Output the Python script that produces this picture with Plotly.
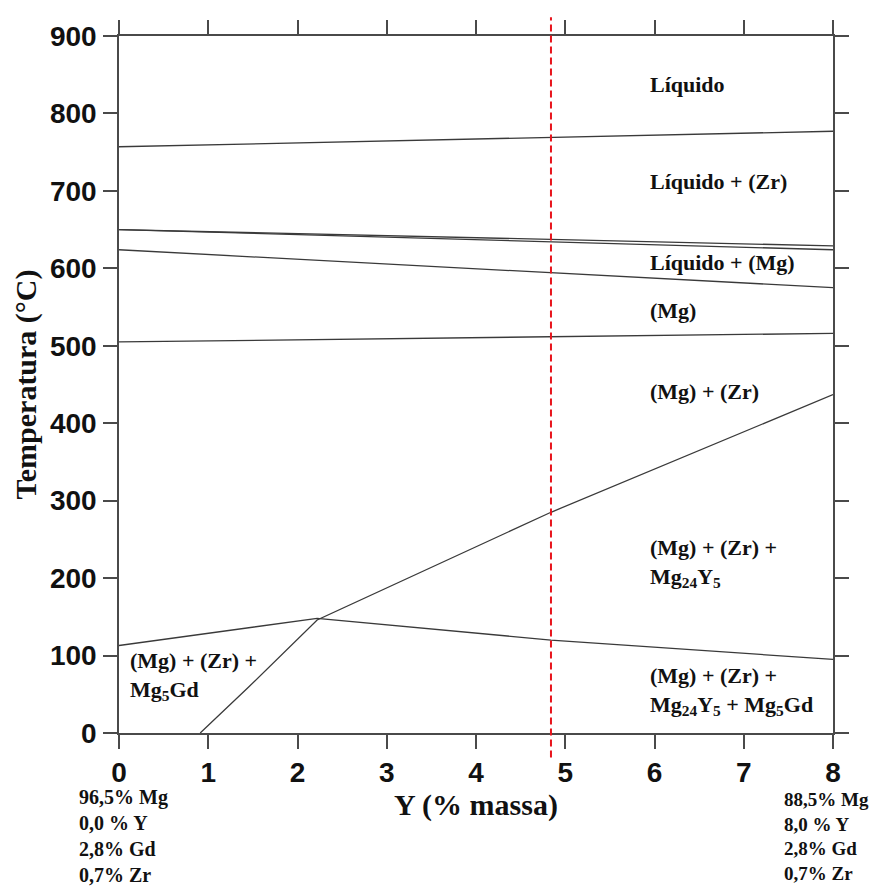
import plotly.graph_objects as go

# ---- data ----
liquidus_x = [0, 8]
liquidus_y = [757, 777]
zr_liq_x = [0, 8]
zr_liq_y = [650, 629]
mg_liq_x = [0, 8]
mg_liq_y = [650, 624]
solidus_x = [0, 8]
solidus_y = [624, 575]
zr_solvus_x = [0, 8]
zr_solvus_y = [505, 516]
mg24y5_x = [0.91, 1.45, 2.22, 4.84, 8]
mg24y5_y = [0, 59, 146, 285, 437]
mg5gd_x = [0, 2.22, 4.84, 8]
mg5gd_y = [113, 148, 120, 95]
alloy_x = 4.84

x_ticks = [0, 1, 2, 3, 4, 5, 6, 7, 8]
y_ticks = [0, 100, 200, 300, 400, 500, 600, 700, 800, 900]

region_labels = ["Líquido", "Líquido + (Zr)", "Líquido + (Mg)", "(Mg)", "(Mg) + (Zr)",
                 "(Mg) + (Zr) +<br>Mg<sub>24</sub>Y<sub>5</sub>",
                 "(Mg) + (Zr) +<br>Mg<sub>24</sub>Y<sub>5</sub> + Mg<sub>5</sub>Gd",
                 "(Mg) + (Zr) +<br>Mg<sub>5</sub>Gd"]
region_x = [5.93, 5.93, 5.93, 5.93, 5.93, 5.93, 5.93, 0.1]
region_y = [837, 712, 608, 545, 441, 219, 54, 74]

comp_left = "96,5% Mg<br>0,0 % Y<br>2,8% Gd<br>0,7% Zr"
comp_right = "88,5% Mg<br>8,0 % Y<br>2,8% Gd<br>0,7% Zr"

line_color = "#3a3a3a"
fig = go.Figure()
for xs, ys in [(liquidus_x, liquidus_y), (zr_liq_x, zr_liq_y), (mg_liq_x, mg_liq_y),
               (solidus_x, solidus_y), (zr_solvus_x, zr_solvus_y),
               (mg24y5_x, mg24y5_y), (mg5gd_x, mg5gd_y)]:
    fig.add_trace(go.Scatter(x=xs, y=ys, mode="lines",
                             line=dict(color=line_color, width=1.3),
                             showlegend=False, hoverinfo="skip"))

serif = "Liberation Serif, Times New Roman, serif"
sans = "Liberation Sans, Arial, sans-serif"

for t, x, y in zip(region_labels, region_x, region_y):
    fig.add_annotation(x=x, y=y, xref="x", yref="y", text=t, showarrow=False,
                       xanchor="left", yanchor="middle", align="left",
                       font=dict(family=serif, size=22, color="#111", weight="bold"))

fig.add_annotation(x=-0.059, y=-0.148, xref="paper", yref="paper", text=comp_left,
                   showarrow=False, xanchor="left", yanchor="middle", align="left",
                   font=dict(family=serif, size=20, color="#111", weight="bold"))
fig.add_annotation(x=0.929, y=-0.148, xref="paper", yref="paper", text=comp_right,
                   showarrow=False, xanchor="left", yanchor="middle", align="left",
                   font=dict(family=serif, size=19, color="#111", weight="bold"))

fig.add_shape(type="line", x0=alloy_x, x1=alloy_x, y0=-0.035, y1=1.027,
              xref="x", yref="paper", line=dict(color="#e8141c", width=2, dash="7px,4px"))

axis_common = dict(showline=True, linecolor="#4a4a4a", linewidth=1.5, mirror="ticks",
                   ticks="outside", ticklen=14, tickwidth=1.5, tickcolor="#4a4a4a",
                   showgrid=False, zeroline=False,
                   tickfont=dict(family=sans, size=28, color="#111", weight="bold"))

# the page body adds an 8px offset, so the figure is 8px smaller and margins shifted
fig.update_layout(
    width=873, height=880,
    margin=dict(l=111, r=48, t=23, b=155),
    plot_bgcolor="white", paper_bgcolor="white",
    xaxis=dict(range=[0, 8], tickvals=x_ticks, ticktext=[str(v) for v in x_ticks],
               ticklabelstandoff=0,
               title=dict(text="Y (% massa)", standoff=1,
                          font=dict(family=serif, size=30, color="#111", weight="bold")),
               **axis_common),
    yaxis=dict(range=[0, 900], tickvals=y_ticks, ticktext=[str(v) for v in y_ticks],
               ticklabelstandoff=1,
               title=dict(text="Temperatura (°C)", standoff=4,
                          font=dict(family=serif, size=30, color="#111", weight="bold")),
               **axis_common),
)

fig.write_html("out.html")
